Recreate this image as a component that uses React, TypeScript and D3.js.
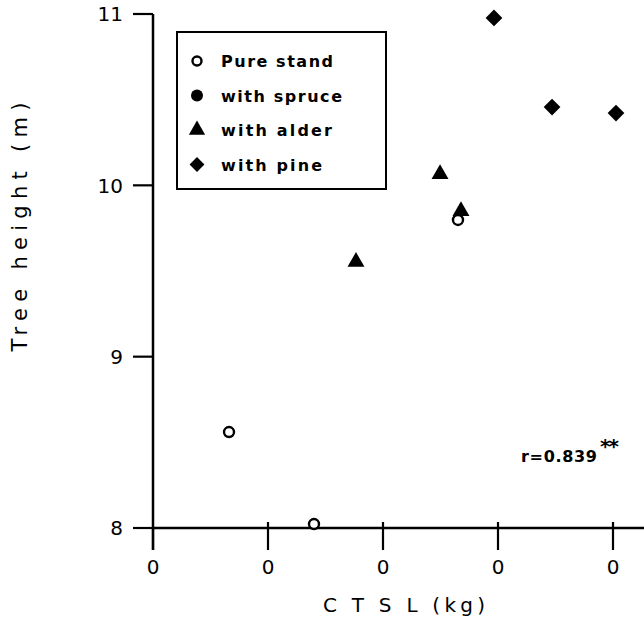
import React from "react";
import * as d3 from "d3";

const xTickValues = [0, 1, 2, 3, 4];
const xTickLabels = ["0", "0", "0", "0", "0"];
const yTickValues = [8, 9, 10, 11];
const yTickLabels = ["8", "9", "10", "11"];

const pureX = [0.661, 1.4, 2.652];
const pureY = [8.56, 8.023, 9.798];
const spruceX: number[] = [];
const spruceY: number[] = [];
const alderX = [1.765, 2.496, 2.678];
const alderY = [9.553, 10.066, 9.85];
const pineX = [2.965, 3.47, 4.026];
const pineY = [10.977, 10.457, 10.422];

const legendLabels = ["Pure stand", "with spruce", "with alder", "with pine"];
const legendKinds = ["open", "circle", "triangle", "diamond"];
const legendTextLen = [112, 121, 111, 101];

const W = 644;
const H = 623;
const x0 = 153;
const xAxisY = 528;

const x = d3.scaleLinear().domain([0, 4]).range([153, 613]);
const y = d3.scaleLinear().domain([8, 11]).range([528, 14]);

const triPath = d3.symbol().type(d3.symbolTriangle).size(125)() as string;
const diaPath = d3.symbol().type(d3.symbolSquare).size(140)() as string;
const legTri = d3.symbol().type(d3.symbolTriangle).size(115)() as string;
const legDia = d3.symbol().type(d3.symbolSquare).size(110)() as string;

function Marker({ kind, cx, cy, legend }: { kind: string; cx: number; cy: number; legend?: boolean }) {
  if (kind === "open")
    return <circle cx={cx} cy={cy} r={legend ? 4.5 : 5} fill="#fff" stroke="#000" strokeWidth={2.4} />;
  if (kind === "circle") return <circle cx={cx} cy={cy} r={6} fill="#000" />;
  if (kind === "triangle")
    return <path d={legend ? legTri : triPath} transform={`translate(${cx},${cy})`} fill="#000" />;
  return <path d={legend ? legDia : diaPath} transform={`translate(${cx},${cy}) rotate(45)`} fill="#000" />;
}

export default function App() {
  const series = [
    { kind: "open", xs: pureX, ys: pureY },
    { kind: "circle", xs: spruceX, ys: spruceY },
    { kind: "triangle", xs: alderX, ys: alderY },
    { kind: "diamond", xs: pineX, ys: pineY },
  ];
  const font = "'DejaVu Sans', sans-serif";
  return (
    <svg width={W} height={H} style={{ position: "absolute", left: 0, top: 0, background: "#fff" }} fontFamily={font}>
      <rect x={0} y={0} width={W} height={H} fill="#fff" />
      {/* y axis */}
      <line x1={x0} x2={x0} y1={y(11)} y2={550} stroke="#000" strokeWidth={2.5} />
      {yTickValues.map((v, i) => (
        <g key={"yt" + i}>
          <line x1={133} x2={x0} y1={y(v)} y2={y(v)} stroke="#000" strokeWidth={2.2} />
          <text x={123} y={y(v)} dy="0.36em" textAnchor="end" fontSize={20}>
            {yTickLabels[i]}
          </text>
        </g>
      ))}
      {/* x axis */}
      <line x1={x0} x2={W} y1={xAxisY} y2={xAxisY} stroke="#000" strokeWidth={2.5} />
      {xTickValues.map((v, i) => (
        <g key={"xt" + i}>
          <line x1={x(v)} x2={x(v)} y1={i === 0 ? xAxisY : 522} y2={550} stroke="#000" strokeWidth={2.2} />
          <text x={x(v)} y={574} textAnchor="middle" fontSize={20}>
            {xTickLabels[i]}
          </text>
        </g>
      ))}
      {/* axis titles */}
      <text x={323} y={612} fontSize={20} textLength={162} lengthAdjust="spacing">
        C T S L (kg)
      </text>
      <text
        transform={`translate(27,227) rotate(-90)`}
        textAnchor="middle"
        fontSize={21}
        textLength={249}
        lengthAdjust="spacing"
      >
        Tree height (m)
      </text>
      {/* legend */}
      <rect x={177} y={32} width={209} height={157} fill="#fff" stroke="#000" strokeWidth={2} />
      {legendLabels.map((lab, i) => {
        const cy = 61 + i * 34.5;
        return (
          <g key={"lg" + i}>
            <Marker kind={legendKinds[i]} cx={197} cy={cy} legend />
            <text x={221} y={cy + 6} fontSize={16} fontWeight="bold" textLength={legendTextLen[i]} lengthAdjust="spacing">
              {lab}
            </text>
          </g>
        );
      })}
      {/* data */}
      {series.map((s) =>
        s.xs.map((xv, j) => <Marker key={s.kind + j} kind={s.kind} cx={x(xv)} cy={y(s.ys[j])} />)
      )}
      {/* annotation */}
      <text x={521} y={462} fontSize={16} fontWeight="bold" textLength={76} lengthAdjust="spacing">
        r=0.839
      </text>
      <text x={600} y={453} fontSize={20} fontWeight="bold" textLength={19} lengthAdjust="spacing">
        **
      </text>
    </svg>
  );
}
